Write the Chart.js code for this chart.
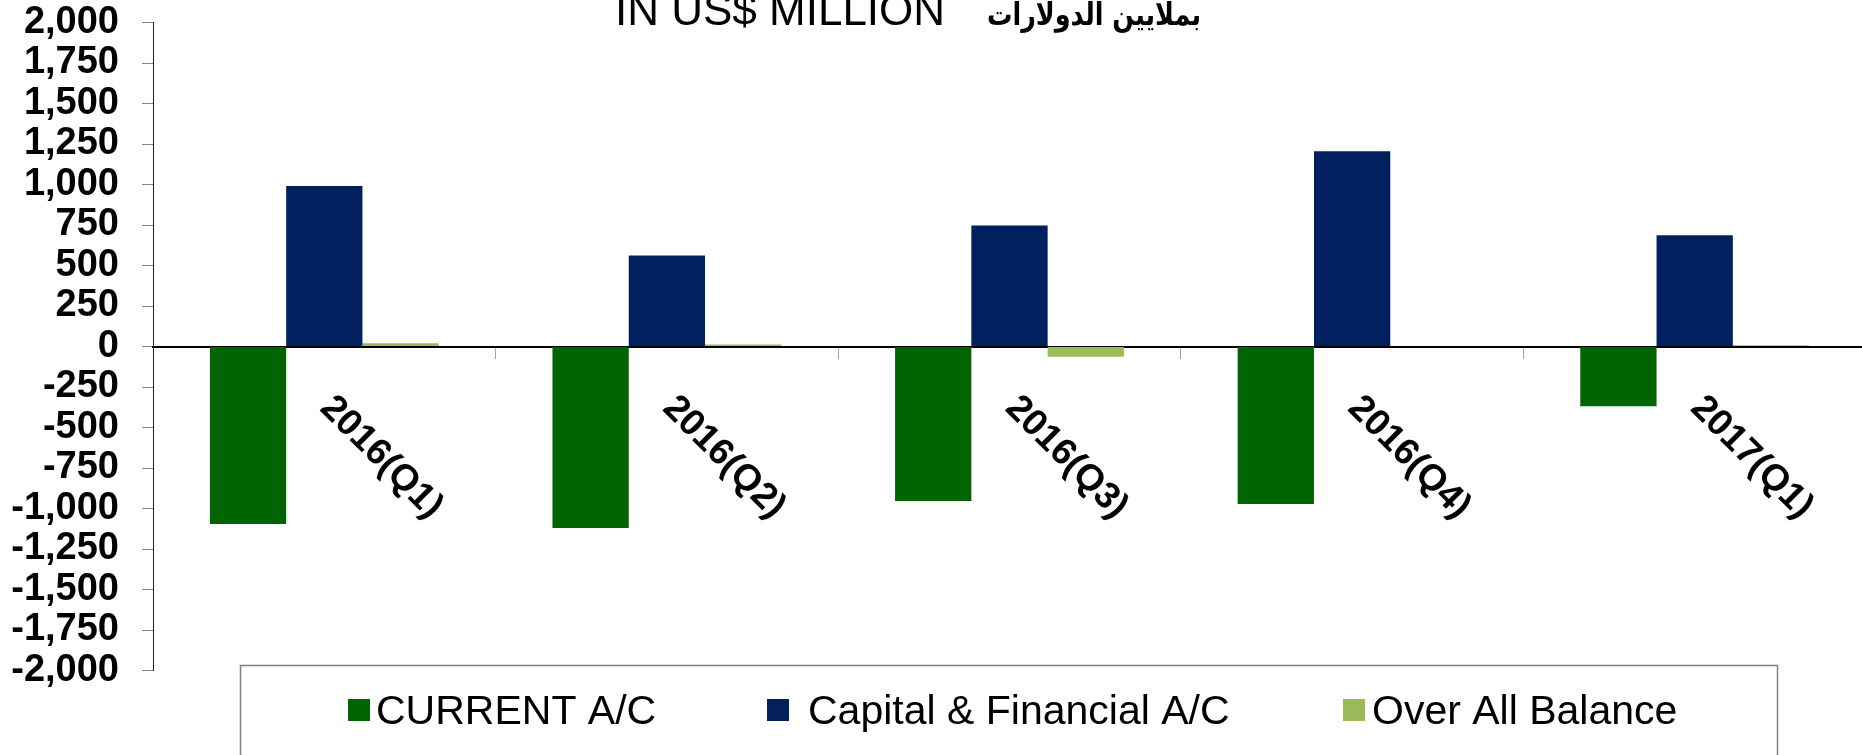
<!DOCTYPE html>
<html>
<head>
<meta charset="utf-8">
<script src="https://cdn.jsdelivr.net/npm/chart.js@4.4.1/dist/chart.umd.min.js"></script>
<style>
  html, body { margin: 0; padding: 0; overflow: hidden; background: #ffffff; width: 1862px; height: 755px; }
  #wrap { position: absolute; left: 0; top: 0; width: 1866px; height: 755px; }
  canvas { display: block; }
</style>
</head>
<body>
<div id="wrap"><canvas id="c" width="1866" height="755" style="width:1866px;height:755px"></canvas></div>
<script>
// ---- data ----
const categories = ['2016(Q1)', '2016(Q2)', '2016(Q3)', '2016(Q4)', '2017(Q1)'];
const currentAC = [-1095, -1120, -953, -972, -369];
const capitalFinancialAC = [990, 562, 747, 1205, 687];
const overAllBalance = [20, 12, -64, 0, 8];
const seriesNames = ['CURRENT A/C', 'Capital & Financial A/C', 'Over All Balance'];
const yMin = -2000;
const yMax = 2000;
const yStep = 250;
const titleEn = 'IN US$ MILLION';
const titleAr = 'بملايين الدولارات';

const FONT = '"Liberation Sans", Arial, Helvetica, sans-serif';

// Title drawn on the canvas
const titlePlugin = {
  id: 'titlePlugin',
  afterDraw(chart) {
    const ctx = chart.ctx;
    ctx.save();
    ctx.fillStyle = '#000';
    ctx.textBaseline = 'alphabetic';
    ctx.textAlign = 'left';
    ctx.font = '44px ' + FONT;
    ctx.fillText(titleEn, 615, 25);
    ctx.save();
    ctx.translate(1201, 25);
    ctx.scale(0.82, 1);
    ctx.textAlign = 'right';
    ctx.font = 'bold 31px "DejaVu Sans", sans-serif';
    ctx.fillText(titleAr, 0, 0);
    ctx.restore();
    ctx.restore();
  }
};

// Rotated category labels hanging under the zero line
const catLabels = {
  id: 'catLabels',
  afterDraw(chart) {
    const ctx = chart.ctx;
    const xs = chart.scales.x, ys = chart.scales.y;
    const y0 = ys.getPixelForValue(0);
    ctx.save();
    ctx.fillStyle = '#000';
    ctx.font = 'bold 37px ' + FONT;
    ctx.textAlign = 'center';
    ctx.textBaseline = 'middle';
    chart.data.labels.forEach((lab, i) => {
      const cx = xs.getPixelForValue(i);
      ctx.save();
      ctx.translate(cx + 57, y0 + 111);
      ctx.rotate(Math.PI / 4);
      ctx.fillText(lab, 0, 0);
      ctx.restore();
    });
    ctx.restore();
  }
};

// Boxed legend at the bottom
const legendBox = {
  id: 'legendBox',
  afterDraw(chart) {
    const ctx = chart.ctx;
    ctx.save();
    ctx.strokeStyle = '#808080';
    ctx.lineWidth = 1.5;
    ctx.strokeRect(240.5, 665.5, 1537, 100);
    const sqX = [348, 767, 1343];
    const txX = [376, 808, 1372];
    ctx.font = '41px ' + FONT;
    ctx.textAlign = 'left';
    ctx.textBaseline = 'alphabetic';
    chart.data.datasets.forEach((ds, i) => {
      ctx.fillStyle = ds.backgroundColor;
      ctx.fillRect(sqX[i], 699, 22, 22);
      ctx.fillStyle = '#000';
      ctx.fillText(ds.label, txX[i], 724);
    });
    ctx.restore();
  }
};

new Chart(document.getElementById('c'), {
  type: 'bar',
  data: {
    labels: categories,
    datasets: [
      { label: seriesNames[0], data: currentAC, backgroundColor: '#006400' },
      { label: seriesNames[1], data: capitalFinancialAC, backgroundColor: '#03205e' },
      { label: seriesNames[2], data: overAllBalance, backgroundColor: '#9bbb59' }
    ]
  },
  options: {
    responsive: false,
    animation: false,
    devicePixelRatio: 1,
    datasets: { bar: { barPercentage: 1.0, categoryPercentage: 0.668, borderWidth: 0 } },
    layout: { padding: { left: 0, right: 0, top: 22.5, bottom: 84.5 } },
    plugins: { legend: { display: false }, title: { display: false }, tooltip: { enabled: false } },
    scales: {
      x: {
        position: { y: 0 },
        z: 1,
        grid: { offset: true, drawOnChartArea: false, drawTicks: true, tickLength: 11, color: '#a6a6a6', lineWidth: 1 },
        border: { display: true, color: '#000000', width: 2 },
        ticks: { display: false }
      },
      y: {
        min: yMin,
        max: yMax,
        afterFit(scale) {
          scale.width = 153;
          scale.paddingTop = 0;
          scale.paddingBottom = 0;
        },
        afterBuildTicks(scale) {
          const t = [];
          for (let v = yMin; v <= yMax; v += yStep) t.push({ value: v });
          scale.ticks = t;
        },
        grid: { drawOnChartArea: false, drawTicks: true, tickLength: 11, color: '#888888', lineWidth: 1 },
        border: { display: true, color: '#222222', width: 1 },
        ticks: {
          autoSkip: false,
          padding: 23,
          color: '#000',
          font: { family: FONT, size: 38, weight: 'bold', lineHeight: 1 },
          callback: (v) => Number(v).toLocaleString('en-US')
        }
      }
    }
  },
  plugins: [titlePlugin, catLabels, legendBox]
});
</script>
</body>
</html>
